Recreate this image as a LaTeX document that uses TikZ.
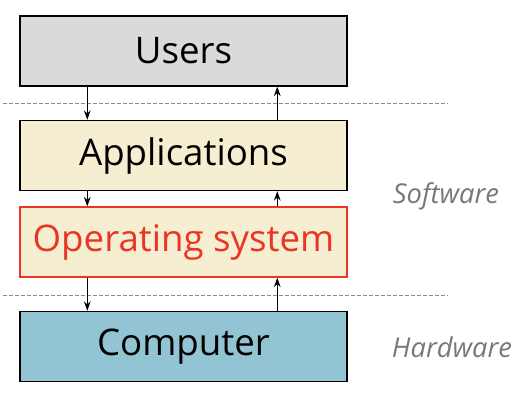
\documentclass[tikz,border=0pt]{standalone}
\usepackage{fontspec}
\setmainfont{Open Sans}
\usetikzlibrary{arrows.meta}
\definecolor{usersgray}{RGB}{217,218,218}
\definecolor{layercream}{RGB}{246,238,209}
\definecolor{osred}{RGB}{234,52,38}
\definecolor{hwblue}{RGB}{146,196,211}
\definecolor{sepgray}{RGB}{140,140,140}
\definecolor{labelgray}{RGB}{120,120,120}
\tikzset{every picture/.style={line width=0.75pt}}
\tikzset{
  layer/.style={draw, line width=1.1pt, minimum width=245.25pt, minimum height=52.5pt, inner sep=0pt, font=\fontsize{27.5}{32}\selectfont},
  flow/.style={-{Stealth[length=7pt,width=5pt]}},
  side/.style={font=\fontsize{20.5}{24}\itshape, text=labelgray, inner sep=0.75pt}
}
\begin{document}
\begin{tikzpicture}[x=0.75pt,y=0.75pt,yscale=-1,xscale=1]
        \path[use as bounding box] (0,0) rectangle (528,400);

        % Layers
        \node [layer, fill=usersgray] (users) at (183.5,51) {Users};
        \node [layer, fill=layercream] (apps) at (183.5,155.5) {Applications};
        \node [layer, fill=layercream, draw=osred, text=osred] (os) at (183.5,242) {Operating system};
        \node [layer, fill=hwblue] (computer) at (183.5,346.5) {Computer};

        % Dashed separators
        \draw [sepgray, dash pattern={on 3pt off 1.5pt}] (3,103) -- (448,103) ;
        \draw [sepgray, dash pattern={on 3pt off 1.5pt}] (3,295) -- (448,295) ;

        % Down arrows
        \draw [flow] ([xshift=51pt]users.south west) -- ([xshift=51pt]apps.north west) ;
        \draw [flow] ([xshift=51pt]apps.south west) -- ([xshift=51pt]os.north west) ;
        \draw [flow] ([xshift=51pt]os.south west) -- ([xshift=51pt]computer.north west) ;
        % Up arrows
        \draw [flow] ([xshift=193.5pt]apps.north west) -- ([xshift=193.5pt]users.south west) ;
        \draw [flow] ([xshift=193.5pt]os.north west) -- ([xshift=193.5pt]apps.south west) ;
        \draw [flow] ([xshift=193.5pt]computer.north west) -- ([xshift=193.5pt]os.south west) ;

        % Text Node
        \node [side] (software) at (446,196) {Software};
        % Text Node
        \node [side] (hardware) at (452,347) {Hardware};

\end{tikzpicture}
\end{document}
